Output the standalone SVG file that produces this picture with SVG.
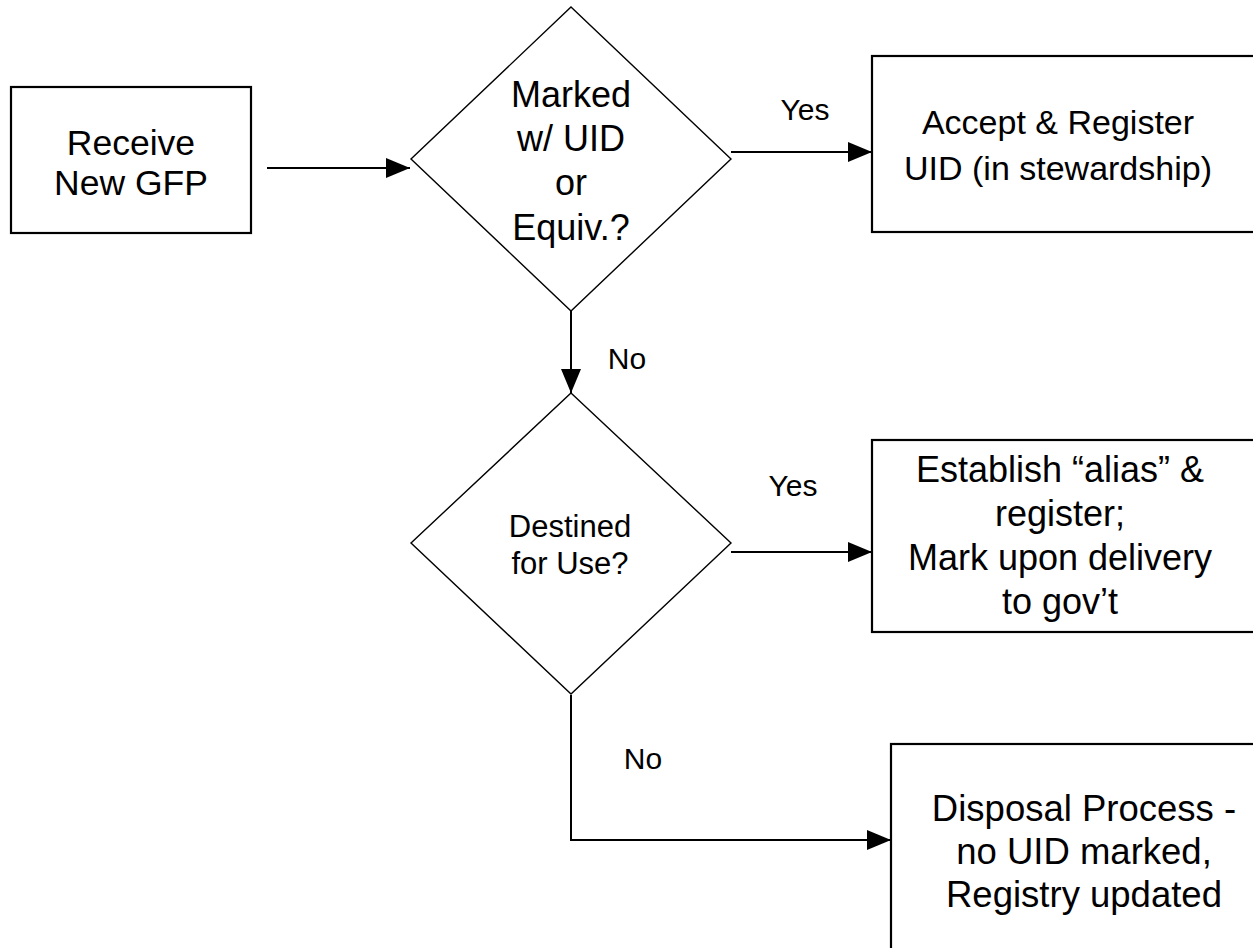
<svg xmlns="http://www.w3.org/2000/svg" width="1253" height="948" viewBox="0 0 1253 948">
<style>
.box{fill:#fff;stroke:#000;stroke-width:2.2}
.dia{fill:#fff;stroke:#000;stroke-width:1.4}
.con{fill:none;stroke:#000;stroke-width:2}
text{font-family:"Liberation Sans",Arial,sans-serif;fill:#000;text-anchor:middle}
.lbl{font-size:30px}
</style>
<defs>
<marker id="ah" markerUnits="userSpaceOnUse" markerWidth="24" markerHeight="20" refX="24" refY="10" orient="auto">
<path d="M0,0 L24,10 L0,20 Z" fill="#000"/>
</marker>
</defs>
<rect width="1253" height="948" fill="#fff"/>
<g id="connectors">
<line class="con" x1="267" y1="168" x2="410" y2="168" marker-end="url(#ah)"/>
<line class="con" x1="731" y1="152" x2="872" y2="152" marker-end="url(#ah)"/>
<line class="con" x1="571" y1="311" x2="571" y2="393" marker-end="url(#ah)"/>
<line class="con" x1="731" y1="552" x2="872" y2="552" marker-end="url(#ah)"/>
<polyline class="con" points="571,695 571,840 891,840" marker-end="url(#ah)"/>
<text class="lbl" x="805" y="120">Yes</text>
<text class="lbl" x="627" y="369">No</text>
<text class="lbl" x="793" y="496">Yes</text>
<text class="lbl" x="643" y="769">No</text>
</g>
<g id="receive">
<rect class="box" x="11" y="87" width="240" height="146"/>
<text font-size="35.5" x="131" y="155">Receive</text>
<text font-size="35.5" x="131" y="195">New GFP</text>
</g>
<g id="marked">
<polygon class="dia" points="571,7 731,159 571,311 411,159"/>
<text font-size="36" x="571" y="107">Marked</text>
<text font-size="36" x="571" y="151">w/ UID</text>
<text font-size="36" x="571" y="195">or</text>
<text font-size="36" x="571" y="240">Equiv.?</text>
</g>
<g id="accept">
<rect class="box" x="872" y="56" width="400" height="176"/>
<text font-size="34" x="1058" y="134">Accept &amp; Register</text>
<text font-size="34" x="1058" y="180">UID (in stewardship)</text>
</g>
<g id="destined">
<polygon class="dia" points="571,393 731,543 571,694 411,543"/>
<text font-size="31" x="570" y="537">Destined</text>
<text font-size="31" x="570" y="574">for Use?</text>
</g>
<g id="alias">
<rect class="box" x="872" y="440" width="400" height="192"/>
<text font-size="36" x="1060" y="482">Establish “alias” &amp;</text>
<text font-size="36" x="1060" y="526">register;</text>
<text font-size="36" x="1060" y="570">Mark upon delivery</text>
<text font-size="36" x="1060" y="614">to gov’t</text>
</g>
<g id="disposal">
<rect class="box" x="891" y="744" width="400" height="220"/>
<text font-size="36.5" x="1084" y="821">Disposal Process -</text>
<text font-size="36.5" x="1084" y="864">no UID marked,</text>
<text font-size="36.5" x="1084" y="907">Registry updated</text>
</g>
</svg>
